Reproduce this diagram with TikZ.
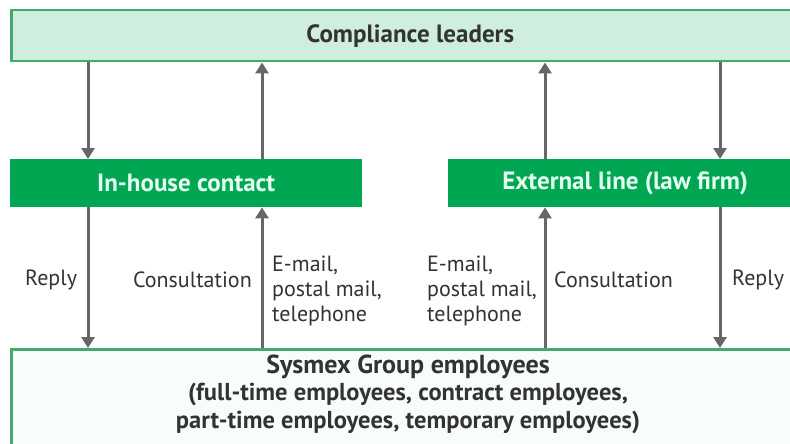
\documentclass[tikz,border=0pt]{standalone}
\usepackage{fontspec}
\setmainfont{PT Sans}
\usetikzlibrary{arrows.meta}
\definecolor{lightbox}{HTML}{CFEEDF}
\definecolor{boxline}{HTML}{45A86C}
\definecolor{darkgreen}{HTML}{00A651}
\definecolor{mint}{HTML}{E4FFF2}
\definecolor{arrgray}{HTML}{666666}
\definecolor{txt}{HTML}{333333}
\definecolor{paleback}{HTML}{F8FDFB}
\tikzset{
  topbox/.style={draw=boxline, line width=2.5pt, fill=lightbox, inner sep=0pt, anchor=north west,
    font=\fontsize{25}{30}\selectfont\bfseries, text=txt},
  greenbox/.style={fill=darkgreen, inner sep=0pt, anchor=north west,
    font=\fontsize{25}{30}\selectfont\bfseries, text=mint},
  empbox/.style={draw=boxline, line width=2.5pt, fill=paleback, inner sep=0pt, anchor=north west},
  emptext/.style={align=center, font=\fontsize{24.5}{27.5}\selectfont\bfseries, text=txt},
  lab/.style={font=\fontsize{22}{25}\selectfont, text=txt, inner sep=0pt},
  arr/.style={draw=arrgray, line width=3pt, -{Triangle[width=13pt,length=11pt]}, shorten >=0pt}
}
\begin{document}
\begin{tikzpicture}[x=1pt,y=-1pt]
\useasboundingbox (0,0) rectangle (790,444);
\clip (0,0) rectangle (790,444);
\fill[white] (0,0) rectangle (790,444);
% boxes
\node[topbox, minimum width=798pt, minimum height=51pt] (cl) at (10,9) {Compliance leaders};
\node[greenbox, minimum width=352pt, minimum height=48pt] (ih) at (10,159) {In-house contact};
\node[greenbox, minimum width=354pt, minimum height=48pt] (ex) at (448,159) {External line (law firm)};
\node[empbox, minimum width=800pt, minimum height=100pt] (emp) at (10,348) {};
\node[emptext] (emptxt) at (408,394) {{\fontsize{26}{27.5}\selectfont Sysmex Group employees}\\(full-time employees, contract employees,\\part-time employees, temporary employees)};
% arrow x positions
\coordinate (xa) at (88,0);
\coordinate (xb) at (262,0);
\coordinate (xc) at (545,0);
\coordinate (xd) at (720,0);
% arrows between leaders and contacts
\draw[arr] (xa |- cl.south) -- (xa |- ih.north);
\draw[arr] (xb |- ih.north) -- (xb |- cl.south);
\draw[arr] (xc |- ex.north) -- (xc |- cl.south);
\draw[arr] (xd |- cl.south) -- (xd |- ex.north);
% arrows between contacts and employees
\draw[arr] (xa |- ih.south) -- (xa |- emp.north);
\draw[arr] (xb |- emp.north) -- (xb |- ih.south);
\draw[arr] (xc |- emp.north) -- (xc |- ex.south);
\draw[arr] (xd |- ex.south) -- (xd |- emp.north);
% labels
\node[lab, anchor=west] (r1) at (25,280) {Reply};
\node[lab, anchor=east] (c1) at (252,280) {Consultation};
\node[lab, anchor=west, align=left] (m1) at (272,291) {E-mail,\\postal mail,\\telephone};
\node[lab, anchor=west, align=left] (m2) at (427,291) {E-mail,\\postal mail,\\telephone};
\node[lab, anchor=west] (c2) at (554,280) {Consultation};
\node[lab, anchor=west] (r2) at (732,280) {Reply};
\end{tikzpicture}
\end{document}
